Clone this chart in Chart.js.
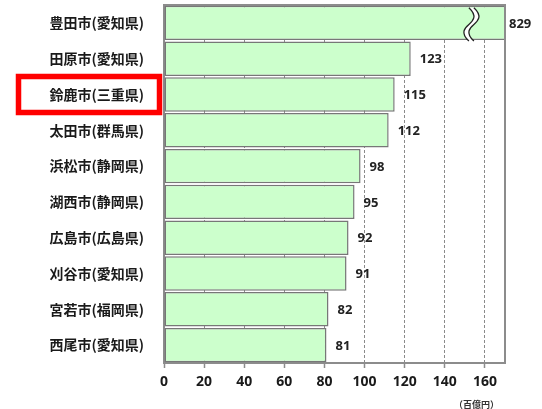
<!DOCTYPE html>
<html>
<head>
<meta charset="utf-8">
<script src="https://cdn.jsdelivr.net/npm/chart.js@4"></script>
<style>
  html, body { margin: 0; padding: 0; background: #fff; }
  #wrap { width: 542px; height: 409px; position: relative; }
</style>
</head>
<body>
<div id="wrap"><canvas id="rankChart"></canvas></div>
<script>
// 市町村別 製造品出荷額等（百億円）
const cities = ['豊田市(愛知県)', '田原市(愛知県)', '鈴鹿市(三重県)', '太田市(群馬県)', '浜松市(静岡県)',
                '湖西市(静岡県)', '広島市(広島県)', '刈谷市(愛知県)', '宮若市(福岡県)', '西尾市(愛知県)'];
const values = [829, 123, 115, 112, 98, 95, 92, 91, 82, 81];
const xTicks = [0, 20, 40, 60, 80, 100, 120, 140, 160];
const axisMax = 170;
const breakAt = 152;      // 省略記号の位置（軸の値）
const highlight = '鈴鹿市(三重県)';
const unitLabel = '（百億円）';

const jpFont = '"Noto Sans CJK JP", "Noto Sans", sans-serif';

// 枠線・数値ラベル・省略記号・強調枠
const decoPlugin = {
    id: 'deco',
    afterDatasetsDraw(chart) {
        const ctx = chart.ctx;
        const area = chart.chartArea;
        const xs = chart.scales.x, ys = chart.scales.y;
        const meta = chart.getDatasetMeta(0);

        ctx.save();
        // 上・右の枠
        ctx.strokeStyle = '#8c8c8c';
        ctx.lineWidth = 2;
        ctx.beginPath();
        ctx.moveTo(area.left, area.top);
        ctx.lineTo(area.right, area.top);
        ctx.lineTo(area.right, area.bottom);
        ctx.stroke();

        // 省略記号（波線）
        const bar0 = meta.data[0];
        const bx = xs.getPixelForValue(breakAt);
        const top = bar0.y - bar0.height / 2 + 2, bot = bar0.y + bar0.height / 2 + 1;
        const h = bot - top;
        const wave = (dx) => {
            ctx.moveTo(bx + dx, top);
            ctx.bezierCurveTo(bx + dx + 9, top + h * 0.25, bx + dx + 4, top + h * 0.4, bx + dx, top + h * 0.5);
            ctx.bezierCurveTo(bx + dx - 4, top + h * 0.6, bx + dx - 9, top + h * 0.75, bx + dx, bot);
        };
        ctx.beginPath();
        wave(0);
        ctx.lineTo(bx + 5, bot);
        ctx.bezierCurveTo(bx - 4, top + h * 0.75, bx + 1, top + h * 0.6, bx + 5, top + h * 0.5);
        ctx.bezierCurveTo(bx + 9, top + h * 0.4, bx + 14, top + h * 0.25, bx + 5, top);
        ctx.closePath();
        ctx.fillStyle = '#fff';
        ctx.fill();
        ctx.strokeStyle = '#222';
        ctx.lineWidth = 1.3;
        ctx.beginPath(); wave(0); ctx.stroke();
        ctx.beginPath(); wave(5); ctx.stroke();

        // 数値ラベル
        ctx.fillStyle = '#222';
        ctx.font = 'bold 13px "Noto Sans", sans-serif';
        ctx.textAlign = 'left';
        ctx.textBaseline = 'middle';
        meta.data.forEach((bar, i) => {
            const x = Math.min(bar.x, area.right) + (values[i] > axisMax ? 4 : 9);
            ctx.fillText(String(values[i]), x, bar.y + 1);
        });

        // 強調枠
        const idx = cities.indexOf(highlight);
        const cy = ys.getPixelForValue(idx);
        ctx.strokeStyle = '#ff0000';
        ctx.lineWidth = 5.5;
        ctx.strokeRect(18.5, cy - 18, 141, 36);

        // 単位
        ctx.fillStyle = '#333';
        ctx.font = 'bold 9px ' + jpFont;
        ctx.textAlign = 'right';
        ctx.textBaseline = 'alphabetic';
        ctx.fillText(unitLabel, area.right - 6, 408);
        ctx.restore();
    }
};

new Chart(document.getElementById('rankChart'), {
    type: 'bar',
    data: {
        labels: cities,
        datasets: [{
            data: values,
            backgroundColor: '#ccffcc',
            borderColor: '#777777',
            borderWidth: 1.5,
            borderSkipped: false,
            barPercentage: 0.96,
            categoryPercentage: 1
        }]
    },
    options: {
        indexAxis: 'y',
        responsive: true,
        maintainAspectRatio: false,
        animation: false,
        layout: { padding: { top: 5, right: 37, bottom: 0, left: 0 } },
        plugins: { legend: { display: false }, tooltip: { enabled: false } },
        scales: {
            x: {
                min: 0,
                max: axisMax,
                afterBuildTicks: (scale) => { scale.ticks = xTicks.map(v => ({ value: v })); },
                afterFit: (scale) => { scale.height = 46; },
                ticks: { color: '#1a1a1a', padding: 6, font: { size: 14, weight: 'bold', family: '"Noto Sans", sans-serif' } },
                grid: {
                    color: (c) => c.tick && c.tick.value === 0 ? 'rgba(0,0,0,0)' : '#8a8a8a',
                    lineWidth: 1,
                    tickLength: 5,
                    tickColor: '#8c8c8c',
                    tickWidth: 1.5,
                    tickBorderDash: [1, 0]
                },
                border: { display: true, color: '#8c8c8c', width: 2, dash: [3, 2] }
            },
            y: {
                afterFit: (scale) => {
                    scale.width = 164;
                    scale.paddingTop = 0;
                    scale.paddingBottom = 0;
                },
                ticks: { color: '#1a1a1a', padding: 20, font: { size: 14, weight: 'bold', family: jpFont } },
                grid: { display: false, drawTicks: false },
                border: { display: true, color: '#8c8c8c', width: 2 }
            }
        }
    },
    plugins: [decoPlugin]
});
</script>
</body>
</html>
